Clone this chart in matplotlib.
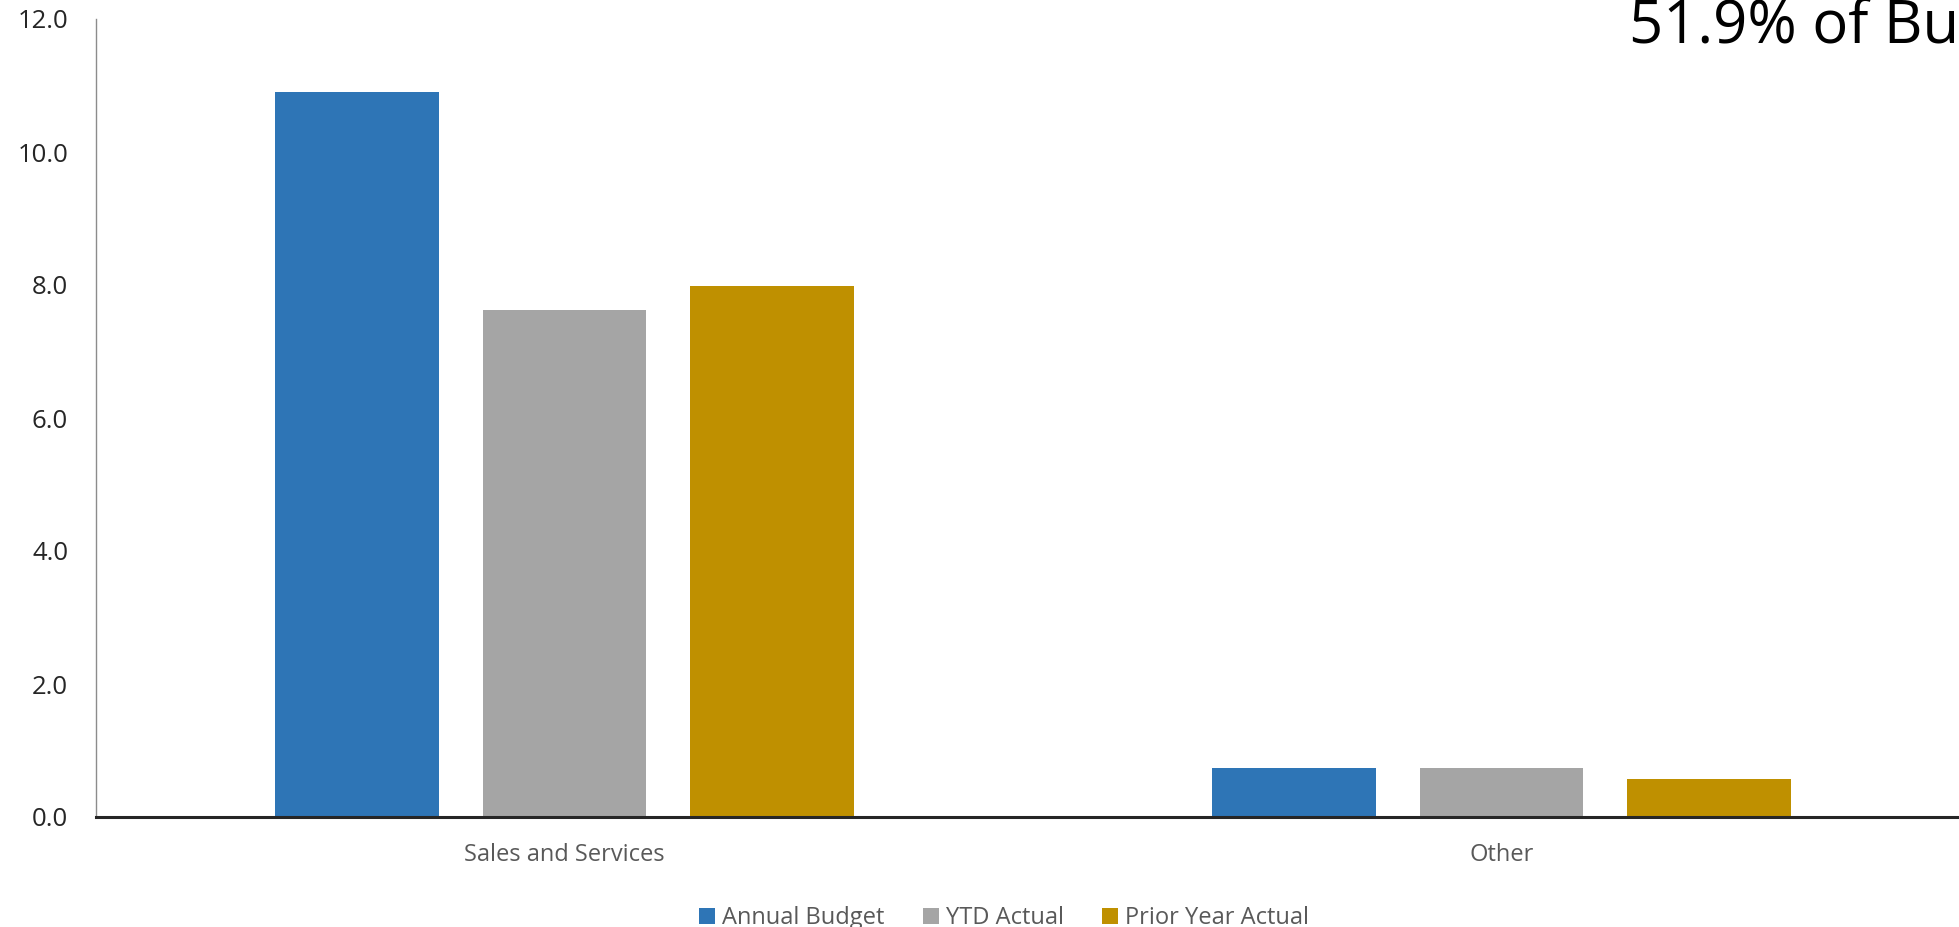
import matplotlib
matplotlib.use("Agg")
import matplotlib.pyplot as plt
import numpy as np
from matplotlib.patches import Patch

categories = ["Sales and Services", "Other"]
series_names = ["Annual Budget", "YTD Actual", "Prior Year Actual"]
annual_budget = [10.9, 0.73]
ytd_actual = [7.63, 0.73]
prior_year_actual = [7.98, 0.57]
y_ticks = [0.0, 2.0, 4.0, 6.0, 8.0, 10.0, 12.0]
headline = "51.9% of Budget"

colors = ["#2E75B6", "#A5A5A5", "#BF9000"]
font = "Open Sans"

W, H = 1959, 927
fig = plt.figure(figsize=(W / 100, H / 100), dpi=100)
# plot area spans past the right edge of the canvas
left, right = 96 / W, 1970 / W
bottom, top = (H - 817) / H, (H - 19) / H
ax = fig.add_axes([left, bottom, right - left, top - bottom])

x = np.arange(len(categories))
bar_w = 0.1747
pitch = 0.2213
for i, (vals, c) in enumerate(zip([annual_budget, ytd_actual, prior_year_actual], colors)):
    ax.bar(x + (i - 1) * pitch, vals, width=bar_w, color=c, edgecolor="none", zorder=2)

ax.set_xlim(-0.5, len(categories) - 0.5)
ax.set_ylim(0, 12)
ax.set_yticks(y_ticks)
ax.set_yticklabels([f"{v:.1f}" for v in y_ticks], fontfamily=font, fontsize=18.5, color="#262626")
ax.set_xticks(x)
ax.set_xticklabels(categories, fontfamily=font, fontsize=17, color="#595959")
ax.tick_params(axis="y", length=0, pad=20)
ax.tick_params(axis="x", length=0, pad=19)

for s in ["top", "right"]:
    ax.spines[s].set_visible(False)
ax.spines["left"].set_color("#8C8C8C")
ax.spines["left"].set_linewidth(1.0)
ax.spines["bottom"].set_color("#262626")
ax.spines["bottom"].set_linewidth(2.2)
ax.spines["bottom"].set_zorder(3)

handles = [Patch(facecolor=c, edgecolor="none") for c in colors]
fig.legend(handles, series_names, loc="center", bbox_to_anchor=(1004 / W, (H - 918) / H),
           ncol=3, frameon=False, prop={"family": font, "size": 17},
           handlelength=0.68, handleheight=0.68, handletextpad=0.3, columnspacing=1.6,
           labelcolor="#595959", borderpad=0, borderaxespad=0)

fig.text(1629 / W, (H - 43) / H, headline, fontfamily=font, fontsize=43,
         color="#000000", ha="left", va="baseline")

fig.savefig("out.png", dpi=100)
